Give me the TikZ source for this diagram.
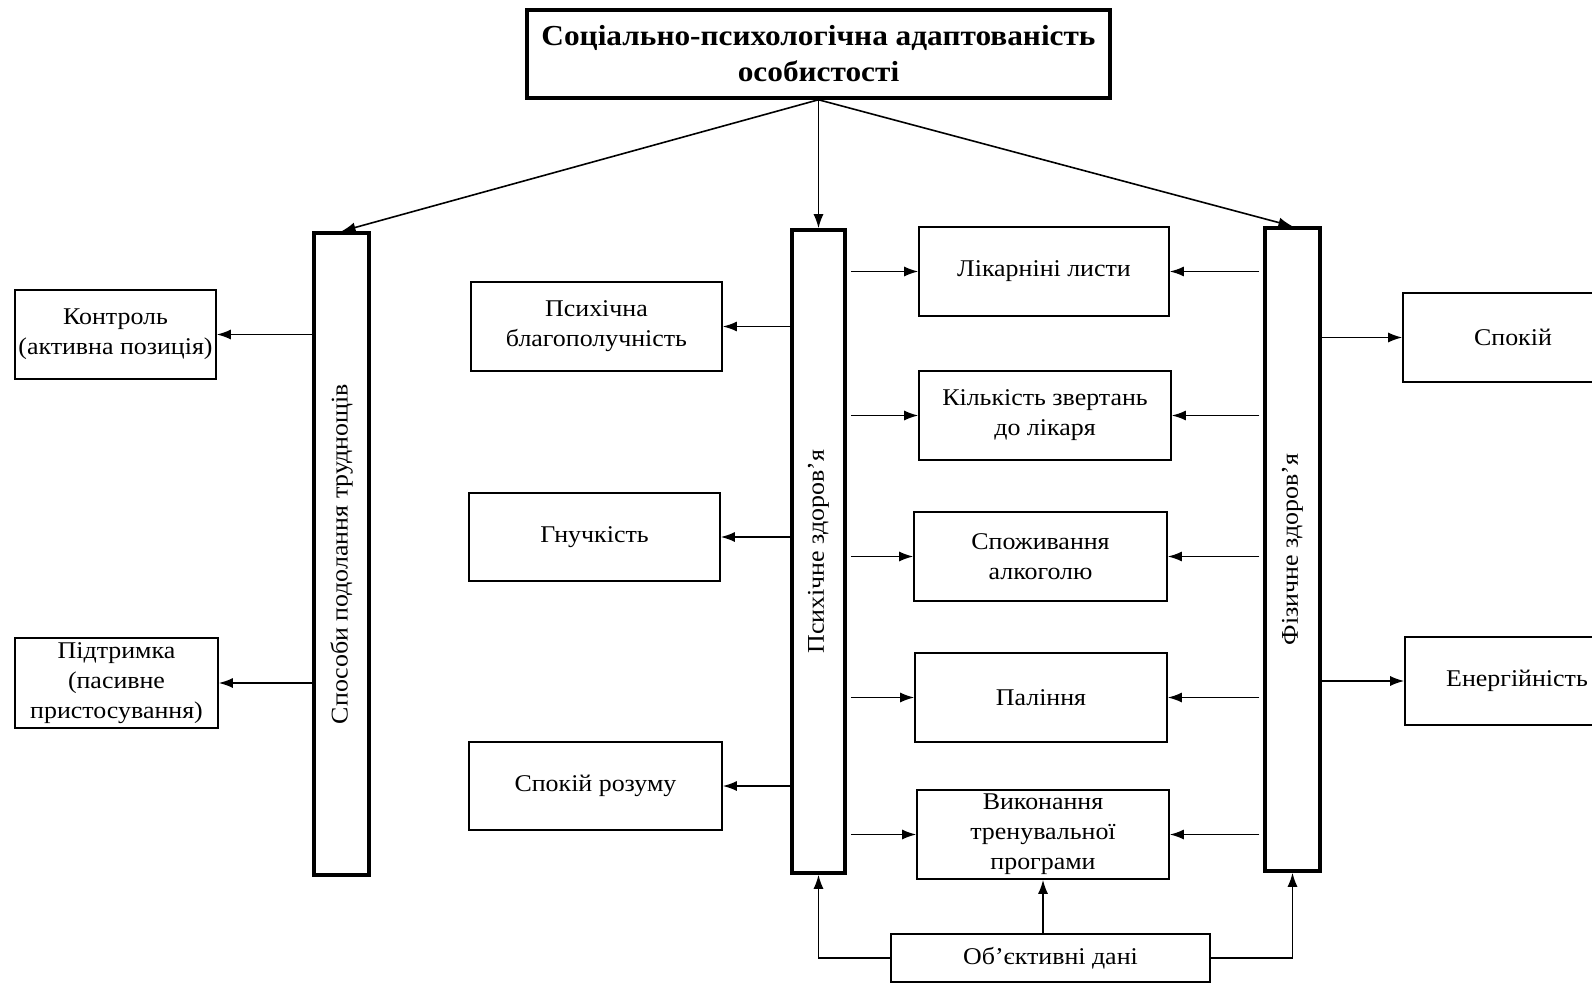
\documentclass[tikz,border=0pt]{standalone}
\usepackage{fontspec}
\setmainfont{Liberation Serif}[FakeStretch=1.08]
\usetikzlibrary{arrows.meta}
\begin{document}
\begin{tikzpicture}[x=1pt,y=-1pt,
  box/.style={draw, line width=1.6pt, align=center, inner sep=0pt, font=\fontsize{24}{30}\selectfont},
  bar/.style={draw, line width=3.5pt, inner sep=0pt, minimum width=53pt},
  vtext/.style={rotate=90, font=\fontsize{24}{30}\selectfont},
  arr/.style={line width=1.6pt, -{Latex[length=14pt,width=10pt]}}]
\useasboundingbox (0,0) rectangle (1592,984);
% title
\node[box, line width=3.5pt, minimum width=583pt, minimum height=88pt,
      font=\fontsize{29}{36}\bfseries\selectfont] (top) at (818.5,54)
  {Соціально-психологічна адаптованість\\особистості};
% bars
\node[bar, minimum width=55pt, minimum height=642pt] (sposoby) at (341.5,554) {};
\node[vtext] (sposobyT) at (sposoby) {Способи подолання труднощів};
\node[bar, minimum width=53pt, minimum height=643pt] (psych) at (818.5,551.5) {};
\node[vtext] (psychT) at (psych) {Психічне здоров’я};
\node[bar, minimum width=55pt, minimum height=643pt] (fiz) at (1292.5,549.5) {};
\node[vtext] (fizT) at (fiz) {Фізичне здоров’я};
% left boxes
\node[box, minimum width=201pt, minimum height=89pt] (kontrol) at (115.5,334.5) {Контроль\\(активна позиція)};
\node[box, minimum width=203pt, minimum height=90pt] (pidtr) at (116.5,683) {Підтримка\\(пасивне\\пристосування)};
% psych boxes
\node[box, minimum width=251pt, minimum height=89pt] (blago) at (596.5,326.5) {Психічна\\благополучність};
\node[box, minimum width=251pt, minimum height=88pt] (gnuch) at (594.5,537) {Гнучкість};
\node[box, minimum width=253pt, minimum height=88pt] (rozum) at (595.5,786) {Спокій розуму};
% middle boxes
\node[box, minimum width=250pt, minimum height=89pt] (likar) at (1044,271.5) {Лікарніні листи};
\node[box, minimum width=252pt, minimum height=89pt] (kilk) at (1045,415.5) {Кількість звертань\\до лікаря};
\node[box, minimum width=253pt, minimum height=89pt] (spozh) at (1040.5,556.5) {Споживання\\алкоголю};
\node[box, minimum width=252pt, minimum height=89pt] (pal) at (1041,697.5) {Паління};
\node[box, minimum width=252pt, minimum height=89pt] (vykon) at (1043,834.5) {Виконання\\тренувальної\\програми};
% right boxes
\node[box, minimum width=220pt, minimum height=89pt] (spokiy) at (1513,337.5) {Спокій};
\node[box, minimum width=224pt, minimum height=88pt] (energ) at (1517,681) {Енергійність};
% objective
\node[box, minimum width=319pt, minimum height=48pt] (obj) at (1050.5,958) {Об’єктивні дані};
% top arrows
\draw[arr] (top.south) -- (sposoby.north);
\draw[arr] (top.south) -- (psych.north);
\draw[arr] (top.south) -- (fiz.north);
% left
\draw[arr] (sposoby.west |- kontrol) -- (kontrol.east);
\draw[arr] (sposoby.west |- pidtr) -- (pidtr.east);
% psych to left
\draw[arr] (psych.west |- blago) -- (blago.east);
\draw[arr] (psych.west |- gnuch) -- (gnuch.east);
\draw[arr] (psych.west |- rozum) -- (rozum.east);
% psych to middle, fiz to middle
\foreach \b in {likar,kilk,spozh,pal,vykon}{
  \draw[arr] ([xshift=4pt]psych.east |- \b) -- (\b.west);
  \draw[arr] ([xshift=-4pt]fiz.west |- \b) -- (\b.east);
}
% fiz to right
\draw[arr] (fiz.east |- spokiy) -- (spokiy.west);
\draw[arr] (fiz.east |- energ) -- (energ.west);
% objective
\draw[arr] (obj.west) -| (psych.south);
\draw[arr] (obj.north -| vykon.south) -- (vykon.south);
\draw[arr] (obj.east) -| (fiz.south);
\end{tikzpicture}
\end{document}
